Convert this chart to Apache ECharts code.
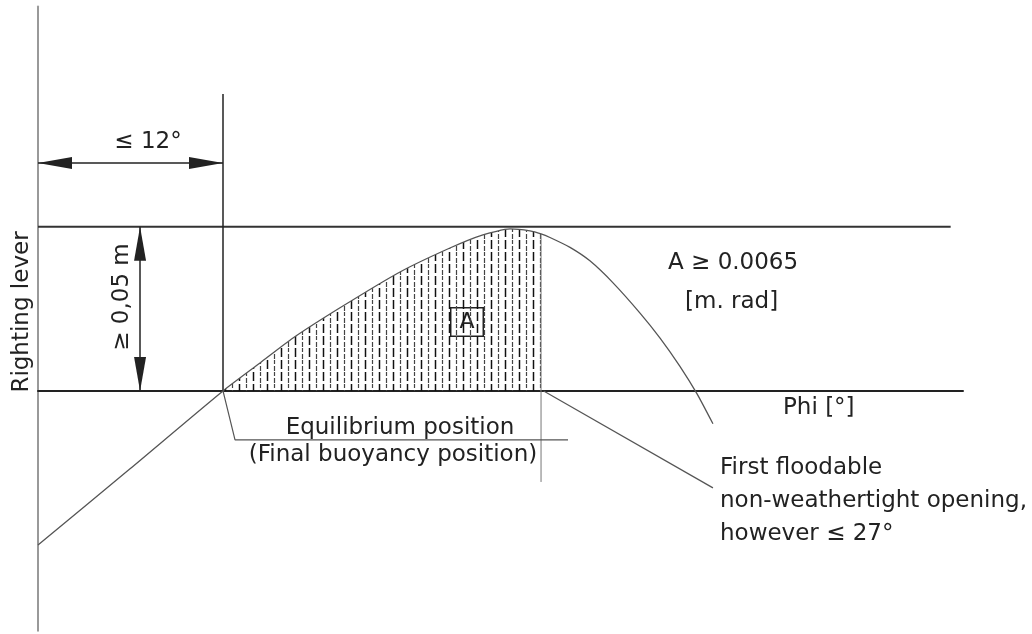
<!DOCTYPE html>
<html>
<head>
<meta charset="utf-8">
<script src="https://cdn.jsdelivr.net/npm/echarts@6/dist/echarts.min.js"></script>
<style>
  html, body { margin: 0; padding: 0; background: #fff; }
  #chart { width: 1032px; height: 634px; }
</style>
</head>
<body>
<div id="chart"></div>
<script>
// righting lever curve, phi in degrees, lever in m
const curvePhi = [0, 5.97, 12, 14.4, 16.54, 19.59, 23.48, 26.72, 28.86, 30.62, 31.91, 32.63, 33.21, 34.51, 35.8, 37.3, 39.05, 40.35, 41.64, 42.75, 43.78];
const curveLever = [-0.0469, -0.0237, 0, 0.0085, 0.0161, 0.0253, 0.0362, 0.0435, 0.0475, 0.0493, 0.0487, 0.0478, 0.0467, 0.0437, 0.0396, 0.0329, 0.0237, 0.0161, 0.0075, -0.0009, -0.01];

const equilibriumPhi = 12;
const openingPhi = 32.63;

// construction lines of the sketch
const maxLeverLine = [[0, 0.05], [59.2, 0.05]];
const equilibriumLine = [[12, 0], [12, 0.0904]];
const openingLine = [[32.63, 0.0478], [32.63, -0.0277]];
const equilibriumLeader = [[12, 0], [12.78, -0.0149], [34.38, -0.0149]];
const openingLeader = [[32.8, 0], [43.78, -0.0295]];
const angleDim = [[0, 0.0694], [12, 0.0694]];
const leverDim = [[6.62, 0], [6.62, 0.05]];

const curve = curvePhi.map((p, i) => [p, curveLever[i]]);
const hatched = curve.filter(([p]) => p >= equilibriumPhi && p <= openingPhi);

// vertical dashed hatch pattern
const hatch = document.createElement("canvas");
hatch.width = 14;
hatch.height = 12;
const ctx = hatch.getContext("2d");
ctx.strokeStyle = "#111";
ctx.lineWidth = 1.5;
ctx.beginPath();
ctx.moveTo(1.5, 0);
ctx.lineTo(1.5, 9);
ctx.stroke();
ctx.strokeStyle = "#444";
ctx.lineWidth = 1.2;
ctx.beginPath();
ctx.moveTo(8.5, 0);
ctx.lineTo(8.5, 4);
ctx.moveTo(8.5, 6);
ctx.lineTo(8.5, 11);
ctx.stroke();

// arrow head with its tip at the centre of the symbol box
const arrowPath = "path://M5,34 L10,68 L0,68 Z M5,0 L5,0";
const font = '23px "DejaVu Sans"';
const ink = "#222";

function guide(data, color, width) {
  return {
    type: "line",
    data,
    symbol: "none",
    silent: true,
    lineStyle: { color, width },
  };
}

function dimension(data) {
  return {
    type: "line",
    data: [],
    symbol: "none",
    silent: true,
    markLine: {
      silent: true,
      symbol: [arrowPath, arrowPath],
      symbolSize: [12, 68],
      label: { show: false },
      lineStyle: { color: ink, width: 1.5, type: "solid" },
      data: [[{ coord: data[0] }, { coord: data[1] }]],
    },
  };
}

function text(str, x, y, extra = {}) {
  return {
    type: "text",
    x,
    y,
    silent: true,
    rotation: extra.rotation || 0,
    style: {
      text: str,
      font,
      fill: ink,
      align: extra.align || "center",
      textAlign: extra.align || "center",
      verticalAlign: extra.vAlign || "middle",
      textVerticalAlign: extra.vAlign || "middle",
      lineHeight: 33,
      ...(extra.style || {}),
    },
  };
}

const chart = echarts.init(document.getElementById("chart"));

chart.setOption({
  animation: false,
  grid: { left: 38, top: 6.5, width: 925, height: 624.3 },
  xAxis: {
    type: "value",
    min: 0,
    max: 60,
    axisLine: { onZero: true, lineStyle: { color: ink, width: 2 } },
    axisTick: { show: false },
    axisLabel: { show: false },
    splitLine: { show: false },
  },
  yAxis: {
    type: "value",
    min: -0.073,
    max: 0.117,
    axisLine: { show: true, onZero: false, lineStyle: { color: "#999", width: 2 } },
    axisTick: { show: false },
    axisLabel: { show: false },
    splitLine: { show: false },
  },
  series: [
    {
      type: "line",
      data: hatched,
      symbol: "none",
      silent: true,
      smooth: 0.2,
      lineStyle: { width: 0 },
      areaStyle: { color: { image: hatch, repeat: "repeat" }, opacity: 1 },
    },
    guide(maxLeverLine, "#333", 2),
    guide(equilibriumLine, ink, 1.5),
    guide(openingLine, "#777", 1),
    guide(equilibriumLeader, "#555", 1.2),
    guide(openingLeader, "#555", 1.2),
    {
      type: "line",
      data: curve,
      symbol: "none",
      silent: true,
      smooth: 0.2,
      lineStyle: { color: "#555", width: 1.3 },
    },
    dimension(angleDim),
    dimension(leverDim),
  ],
  graphic: [
    text("≤ 12°", 148, 142),
    text("≥ 0,05 m", 122, 297, { rotation: Math.PI / 2 }),
    text("Righting lever", 22, 312, { rotation: Math.PI / 2 }),
    text("A", 467, 322, {
      style: {
        font: '22px "DejaVu Sans"',
        lineHeight: 24,
        backgroundColor: "#fff",
        borderColor: ink,
        borderWidth: 1.5,
        padding: [2, 8, 1, 8],
      },
    }),
    text("A ≥ 0.0065", 668, 263, { align: "left" }),
    text("[m. rad]", 685, 302, { align: "left" }),
    text("Phi [°]", 783, 408, { align: "left" }),
    text("Equilibrium position", 400, 428),
    text("(Final buoyancy position)", 393, 455),
    text("First floodable\nnon-weathertight opening,\nhowever ≤ 27°", 720, 452, { align: "left", vAlign: "top" }),
  ],
});
</script>
</body>
</html>
